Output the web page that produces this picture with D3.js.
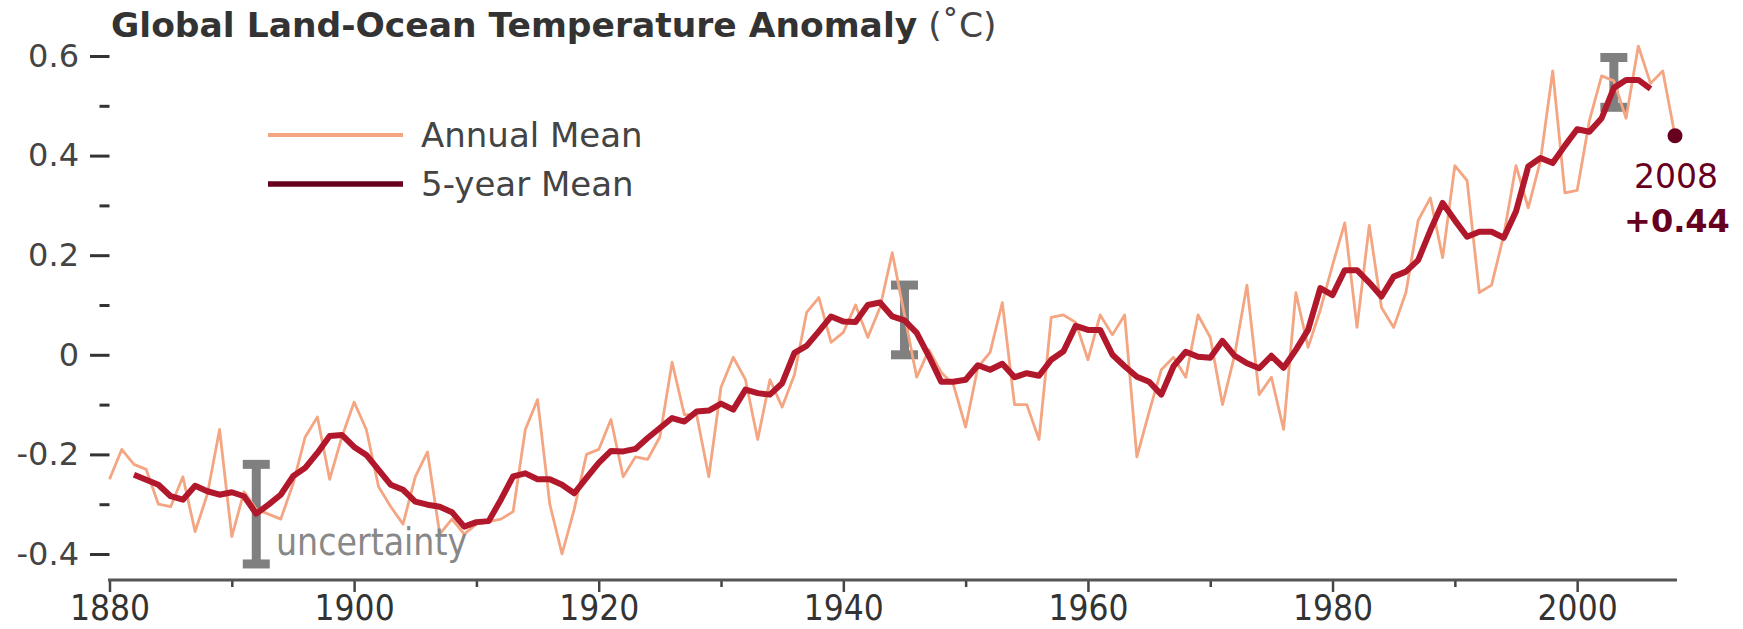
<!DOCTYPE html>
<html>
<head>
<meta charset="utf-8">
<script src="https://cdn.jsdelivr.net/npm/d3@7"></script>
<style>
  body { margin: 0; background: #fff; }
  svg { display: block; }
</style>
</head>
<body>
<svg id="canvas" width="1743" height="629"></svg>
<script>
// Years covered
let firstYear = 1880
let lastYear = 2008
let fiveYearStart = 1882

// Annual mean anomaly (deg C), 1880 - 2008
let annualMean = [
  -0.25, -0.19, -0.22, -0.23, -0.30, -0.305, -0.245, -0.355, -0.28, -0.15,   // 1880s
  -0.365, -0.275, -0.31, -0.32, -0.33, -0.26, -0.165, -0.125, -0.25, -0.165, // 1890s
  -0.095, -0.15, -0.265, -0.305, -0.34, -0.245, -0.195, -0.36, -0.33, -0.36, // 1900s
  -0.34, -0.335, -0.33, -0.315, -0.15, -0.09, -0.30, -0.40, -0.31, -0.20,    // 1910s
  -0.19, -0.13, -0.245, -0.205, -0.21, -0.165, -0.015, -0.12, -0.12, -0.245, // 1920s
  -0.065, -0.005, -0.05, -0.17, -0.05, -0.105, -0.04, 0.085, 0.115, 0.025,   // 1930s
  0.045, 0.10, 0.035, 0.095, 0.205, 0.08, -0.045, 0.01, -0.035, -0.06,       // 1940s
  -0.145, -0.025, 0.005, 0.105, -0.10, -0.10, -0.17, 0.075, 0.08, 0.065,     // 1950s
  -0.01, 0.08, 0.04, 0.08, -0.205, -0.115, -0.03, -0.005, -0.045, 0.08,      // 1960s
  0.035, -0.10, 0.0, 0.14, -0.08, -0.045, -0.15, 0.125, 0.015, 0.09,         // 1970s
  0.18, 0.265, 0.055, 0.26, 0.095, 0.055, 0.125, 0.27, 0.315, 0.195,        // 1980s
  0.38, 0.35, 0.125, 0.14, 0.24, 0.38, 0.295, 0.39, 0.57, 0.325,            // 1990s
  0.33, 0.47, 0.56, 0.55, 0.475, 0.62, 0.545, 0.57, 0.44                    // 2000s
]

// 5-year running mean (deg C), 1882 - 2006
let fiveYearMean = [
  -0.241, -0.251, -0.261, -0.284, -0.291, -0.263, -0.274, -0.281,           // 1882-1889
  -0.276, -0.284, -0.319, -0.301, -0.281, -0.244, -0.227, -0.197, -0.163, -0.161,
  -0.185, -0.201, -0.231, -0.261, -0.271, -0.295, -0.301, -0.305, -0.316, -0.345,
  -0.336, -0.334, -0.291, -0.244, -0.238, -0.25, -0.25, -0.261, -0.278, -0.247,
  -0.217, -0.193, -0.194, -0.189, -0.167, -0.147, -0.127, -0.134, -0.114, -0.112,
  -0.098, -0.11, -0.07, -0.077, -0.08, -0.057, 0.004, 0.018, 0.047, 0.077,
  0.067, 0.066, 0.10, 0.105, 0.077, 0.069, 0.044, -0.003, -0.054, -0.054,
  -0.05, -0.021, -0.03, -0.018, -0.045, -0.037, -0.042, -0.01, 0.007, 0.058,
  0.05, 0.05, 0.0, -0.023, -0.044, -0.054, -0.08, -0.023, 0.006, -0.004,
  -0.006, 0.028, -0.002, -0.017, -0.027, -0.002, -0.026, 0.01, 0.05, 0.134,
  0.12, 0.17, 0.17, 0.145, 0.117, 0.157, 0.167, 0.19, 0.25, 0.305,
  0.27, 0.237, 0.247, 0.247, 0.235, 0.288, 0.378, 0.395, 0.385, 0.42,
  0.453, 0.448, 0.475, 0.536, 0.552, 0.552, 0.534                           // 2000-2006
]

// Axis ticks
let xMajor = [1880, 1900, 1920, 1940, 1960, 1980, 2000]
let xMinor = [1890, 1910, 1930, 1950, 1970, 1990]
let yMajor = [0.6, 0.4, 0.2, 0, -0.2, -0.4]
let yMinor = [0.5, 0.3, 0.1, -0.1, -0.3]
let yLabels = ['0.6', '0.4', '0.2', '0', '-0.2', '-0.4']

// Uncertainty bars
let uncYears = [1892, 1945, 2003]
let uncCenter = [-0.32, 0.07, 0.547]
let uncHalf = [0.10, 0.07, 0.05]

let annualColor = '#f4a582'
let fiveColor = '#b2182b'
let darkColor = '#67001f'

let canvas = d3.select('#canvas')

let x = d3.scaleLinear().domain([firstYear, lastYear]).range([109.5, 1675])
let y = d3.scaleLinear().domain([-0.4, 0.6]).range([554, 56])

// Title
let title = canvas.append('text')
    .attr('x', 111)
    .attr('y', 37)
    .style('font-family', 'DejaVu Sans')
    .style('font-size', '34.5px')
    .style('fill', '#333')
title.append('tspan').style('font-weight', 'bold').text('Global Land-Ocean Temperature Anomaly')
title.append('tspan').style('fill', '#444').text(' (˚C)')

// Y axis (no domain line, only ticks)
let yAxis = canvas.append('g')
    .attr('transform', 'translate(109.5,0)')
    .call(d3.axisLeft(y).tickValues(yMajor).tickSize(19.5).tickPadding(11)
        .tickFormat((d, i) => yLabels[i]))
yAxis.select('.domain').remove()
yAxis.selectAll('line').style('stroke', '#333').style('stroke-width', 3)
yAxis.selectAll('text')
    .style('font-family', 'DejaVu Sans')
    .style('font-size', '32px')
    .style('fill', '#444')

let yMinorAxis = canvas.append('g')
    .attr('transform', 'translate(109.5,0)')
    .call(d3.axisLeft(y).tickValues(yMinor).tickSize(10).tickFormat(''))
yMinorAxis.select('.domain').remove()
yMinorAxis.selectAll('line').style('stroke', '#333').style('stroke-width', 3)

// X axis
let xAxis = canvas.append('g')
    .attr('transform', 'translate(0,580)')
    .call(d3.axisBottom(x).tickValues(xMajor).tickSize(12).tickPadding(3).tickFormat(d3.format('d')))
xAxis.select('.domain').remove()
xAxis.selectAll('line').style('stroke', '#444').style('stroke-width', 2.5)
xAxis.selectAll('text')
    .style('font-family', "'DejaVu Sans Condensed', 'DejaVu Sans'")
    .style('font-stretch', 'condensed')
    .style('font-size', '35px')
    .style('fill', '#333')

let xMinorAxis = canvas.append('g')
    .attr('transform', 'translate(0,580)')
    .call(d3.axisBottom(x).tickValues(xMinor).tickSize(7).tickFormat(''))
xMinorAxis.select('.domain').remove()
xMinorAxis.selectAll('line').style('stroke', '#444').style('stroke-width', 2.5)

canvas.append('line')
    .attr('x1', x(firstYear) - 1.5)
    .attr('x2', x(lastYear) + 2)
    .attr('y1', 580)
    .attr('y2', 580)
    .style('stroke', '#555')
    .style('stroke-width', 3)

// Uncertainty bars
let bars = canvas.selectAll('.unc')
    .data(uncYears)
    .enter()
    .append('g')
    .attr('class', 'unc')
    .style('fill', '#808080')
bars.append('rect')
    .attr('x', d => x(d) - 4.5)
    .attr('width', 9)
    .attr('y', (d, i) => y(uncCenter[i] + uncHalf[i]))
    .attr('height', (d, i) => y(uncCenter[i] - uncHalf[i]) - y(uncCenter[i] + uncHalf[i]))
bars.append('rect')
    .attr('x', d => x(d) - 13.5)
    .attr('width', 27)
    .attr('y', (d, i) => y(uncCenter[i] + uncHalf[i]) - 4.5)
    .attr('height', 9)
bars.append('rect')
    .attr('x', d => x(d) - 13.5)
    .attr('width', 27)
    .attr('y', (d, i) => y(uncCenter[i] - uncHalf[i]) - 4.5)
    .attr('height', 9)

// Lines
let annualLine = d3.line()
    .x((d, i) => x(firstYear + i))
    .y(d => y(d))
let fiveLine = d3.line()
    .x((d, i) => x(fiveYearStart + i))
    .y(d => y(d))

canvas.append('path')
    .attr('d', annualLine(annualMean))
    .style('fill', 'none')
    .style('stroke', annualColor)
    .style('stroke-width', 2.8)
    .style('stroke-linejoin', 'round')

canvas.append('path')
    .attr('d', fiveLine(fiveYearMean))
    .style('fill', 'none')
    .style('stroke', fiveColor)
    .style('stroke-width', 6)
    .style('stroke-linejoin', 'round')

// Last year marker
canvas.append('circle')
    .attr('cx', x(lastYear))
    .attr('cy', y(annualMean[annualMean.length - 1]))
    .attr('r', 7.5)
    .style('fill', darkColor)

canvas.append('text')
    .attr('x', x(lastYear) + 1)
    .attr('y', 188)
    .attr('text-anchor', 'middle')
    .style('font-family', 'DejaVu Sans')
    .style('font-size', '33px')
    .style('fill', darkColor)
    .text(lastYear)

canvas.append('text')
    .attr('x', x(lastYear) + 2)
    .attr('y', 232)
    .attr('text-anchor', 'middle')
    .style('font-family', 'DejaVu Sans')
    .style('font-weight', 'bold')
    .style('font-size', '32px')
    .style('fill', darkColor)
    .text('+' + d3.format('.2f')(annualMean[annualMean.length - 1]))

// Legend
let legendItems = [
    { label: 'Annual Mean', color: annualColor, width: 4, y: 135 },
    { label: '5-year Mean', color: darkColor, width: 5.5, y: 184 }
]
let legend = canvas.selectAll('.legend')
    .data(legendItems)
    .enter()
    .append('g')
    .attr('class', 'legend')
legend.append('line')
    .attr('x1', 268)
    .attr('x2', 403)
    .attr('y1', d => d.y)
    .attr('y2', d => d.y)
    .style('stroke', d => d.color)
    .style('stroke-width', d => d.width)
legend.append('text')
    .attr('x', 421)
    .attr('y', d => d.y + 12)
    .style('font-family', 'DejaVu Sans')
    .style('font-size', '34px')
    .style('fill', '#444')
    .text(d => d.label)

// Uncertainty label
canvas.append('text')
    .attr('x', 276)
    .attr('y', 555)
    .style('font-family', "'DejaVu Sans Condensed', 'DejaVu Sans'")
    .style('font-stretch', 'condensed')
    .style('font-size', '37px')
    .style('fill', '#888')
    .text('uncertainty')
</script>
</body>
</html>
